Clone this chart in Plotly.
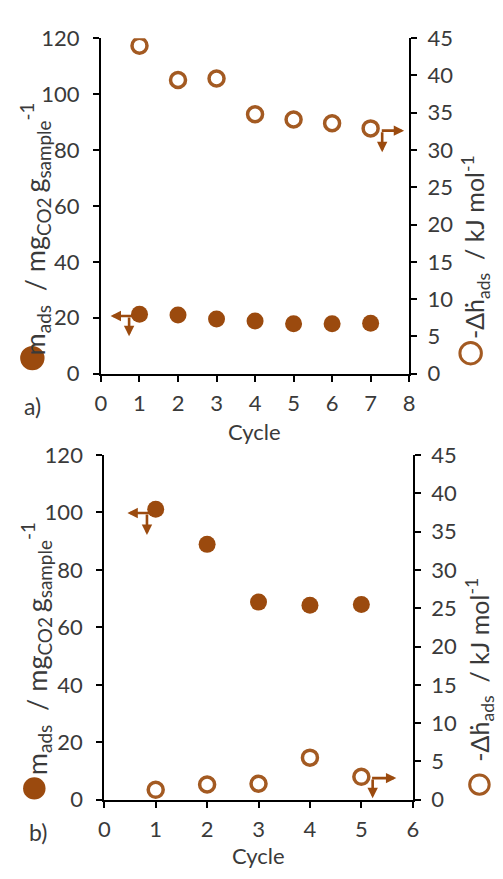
import plotly.graph_objects as go

# ---- data ----
cycles_a = [1, 2, 3, 4, 5, 6, 7]
m_ads_a = [21.2, 21.0, 19.5, 18.8, 17.8, 17.8, 18.0]          # mg CO2 / g sample
dh_ads_a = [44.0, 39.4, 39.6, 34.8, 34.1, 33.6, 32.9]          # kJ/mol

cycles_b = [1, 2, 3, 4, 5]
m_ads_b = [101.1, 88.9, 68.8, 67.7, 68.0]
dh_ads_b = [1.3, 2.0, 2.1, 5.5, 3.0]

x_ticks_a = [0, 1, 2, 3, 4, 5, 6, 7, 8]
x_ticks_b = [0, 1, 2, 3, 4, 5, 6]
left_ticks = [0, 20, 40, 60, 80, 100, 120]
right_ticks = [0, 5, 10, 15, 20, 25, 30, 35, 40, 45]

W, H = 503, 879
BROWN = "#9B4A0E"
BROWN_OPEN = "#A35A22"
TXT = "#3a3a3a"
FONT = "Lato"

def px(x, y):
    return x / W, 1 - y / H

fig = go.Figure()
fig.add_trace(go.Scatter(x=cycles_a, y=m_ads_a, mode="markers", xaxis="x", yaxis="y",
                         marker=dict(size=17, color=BROWN, line=dict(width=0))))
fig.add_trace(go.Scatter(x=cycles_a, y=dh_ads_a, mode="markers", xaxis="x", yaxis="y2",
                         marker=dict(size=15, symbol="circle-open", color=BROWN_OPEN,
                                     line=dict(width=3.5, color=BROWN_OPEN))))
fig.add_trace(go.Scatter(x=cycles_b, y=m_ads_b, mode="markers", xaxis="x2", yaxis="y3",
                         marker=dict(size=17, color=BROWN, line=dict(width=0))))
fig.add_trace(go.Scatter(x=cycles_b, y=dh_ads_b, mode="markers", xaxis="x2", yaxis="y4",
                         marker=dict(size=15, symbol="circle-open", color=BROWN_OPEN,
                                     line=dict(width=3.5, color=BROWN_OPEN))))

axcommon = dict(showgrid=False, zeroline=False, showline=True, linecolor="black", linewidth=2,
                ticks="outside", tickcolor="black", tickwidth=2, ticklen=6,
                tickfont=dict(family=FONT, size=22, color=TXT))
xcommon = dict(axcommon, ticklabelstandoff=3)
lcommon = dict(axcommon, ticklabelstandoff=9)
rcommon = dict(axcommon, ticklabelstandoff=6)

ya0, ya1 = px(0, 371)[1], px(0, 25)[1]
yb0, yb1 = px(0, 810.7)[1], px(0, 455)[1]

fig.update_layout(
    width=W, height=H, showlegend=False,
    margin=dict(l=0, r=0, t=0, b=0),
    paper_bgcolor="white", plot_bgcolor="white",
    xaxis=dict(xcommon, domain=[97.3 / W, 413 / W], range=[0, 8], tickvals=x_ticks_a, anchor="y"),
    yaxis=dict(lcommon, domain=[ya0, ya1], range=[0, 120], tickvals=left_ticks, anchor="x"),
    yaxis2=dict(rcommon, range=[0, 45], tickvals=right_ticks, overlaying="y", side="right", anchor="x"),
    xaxis2=dict(xcommon, domain=[100.7 / W, 416.7 / W], range=[0, 6], tickvals=x_ticks_b, anchor="y3"),
    yaxis3=dict(lcommon, domain=[yb0, yb1], range=[0, 120], tickvals=left_ticks, anchor="x2"),
    yaxis4=dict(rcommon, range=[0, 45], tickvals=right_ticks, overlaying="y3", side="right", anchor="x2"),
)

ann = []
def text(x, y, s, size=22, angle=0):
    xp, yp = px(x, y)
    ann.append(dict(x=xp, y=yp, xref="paper", yref="paper", text=s, showarrow=False,
                    textangle=angle, font=dict(family=FONT, size=size, color=TXT),
                    xanchor="center", yanchor="middle"))

# x titles and panel labels
text(255, 431, "Cycle", 22)
text(259, 868, "Cycle", 22)
text(27, 404, "a)", 23)
text(33, 844, "b)", 23)

left_title = "m<sub>ads</sub>  / mg<sub>CO2 </sub>g<sub>sample</sub><sup>-1</sup>"
right_title = "-Δḣ<sub>ads</sub>  / kJ mol<sup>-1</sup>"
text(30, 222, left_title, 27, -90)
text(31, 655, left_title, 27, -90)
text(481, 241, right_title, 25, -90)
text(485, 676, right_title, 25, -90)

# direction arrows (decorations pointing to the axis each series uses)
def arrow(xref, yref, x0, y0, x1, y1):
    ann.append(dict(x=x1, y=y1, ax=x0, ay=y0, xref=xref, yref=yref, axref=xref, ayref=yref,
                    text="", showarrow=True, arrowhead=2, arrowsize=0.8, arrowwidth=2.6,
                    arrowcolor=BROWN))

arrow("x", "y", 0.97, 20.6, 0.25, 20.6)
arrow("x", "y", 0.73, 20.6, 0.73, 13.4)
arrow("x", "y2", 7.25, 32.6, 7.87, 32.6)
arrow("x", "y2", 7.30, 32.6, 7.30, 29.7)
arrow("x2", "y3", 0.97, 99.8, 0.45, 99.8)
arrow("x2", "y3", 0.83, 99.8, 0.83, 92.2)
arrow("x2", "y4", 5.18, 2.83, 5.68, 2.83)
arrow("x2", "y4", 5.22, 2.83, 5.22, 0.2)

fig.update_layout(annotations=ann)

# legend-style circles beside the axis titles
shapes = []
def circle(cx, cy, r, filled):
    x0, y0 = px(cx - r, cy + r)
    x1, y1 = px(cx + r, cy - r)
    shapes.append(dict(type="circle", xref="paper", yref="paper", x0=x0, y0=y0, x1=x1, y1=y1,
                       fillcolor=BROWN if filled else "rgba(0,0,0,0)",
                       line=dict(color=BROWN if filled else BROWN_OPEN, width=0 if filled else 3)))

circle(27, 355, 12.5, True)
circle(29, 799, 11.5, True)
circle(476, 350, 11, False)
circle(485, 795, 10, False)
fig.update_layout(shapes=shapes)

fig.write_html("out.html", config={"displayModeBar": False},
               post_script="document.body.style.margin='0';")
